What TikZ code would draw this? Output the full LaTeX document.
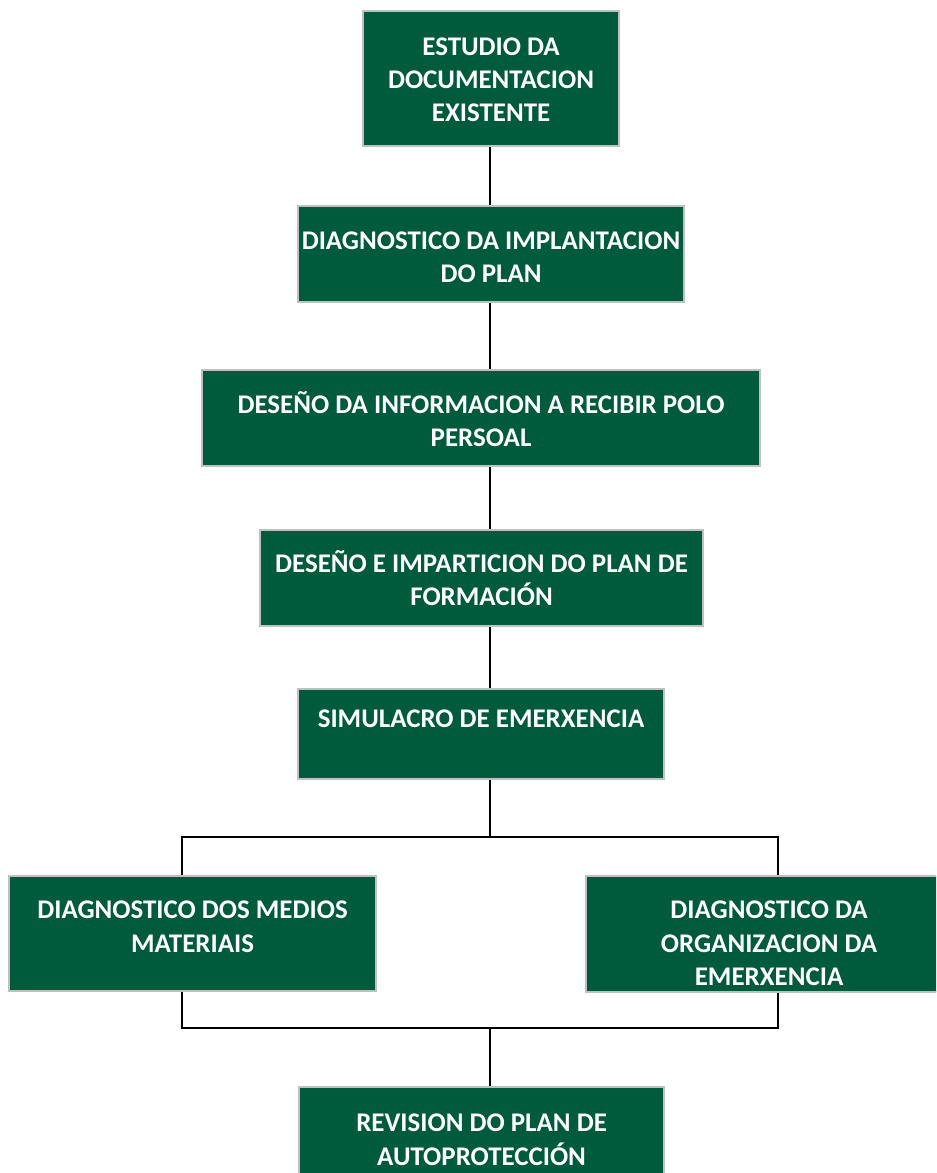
\documentclass[tikz,border=0pt]{standalone}
\usepackage{fontspec}
\setmainfont{Carlito}
\usetikzlibrary{positioning}
\definecolor{verde}{RGB}{0,90,60}
\definecolor{bordo}{RGB}{192,192,192}
\tikzset{
    stage/.style = {draw=bordo, line width=1.6pt, fill=verde, inner sep=0pt, anchor=north west},
    boxsize/.style 2 args = {minimum width=#1*0.75pt, minimum height=#2*0.75pt},
    stagetext/.style = {text=white, font=\bfseries\fontsize{20.2}{24.8}\selectfont, align=center,
        inner sep=0pt, execute at begin node=\rule{0pt}{1em}},
    link/.style = {line width=1.5pt}
}

\begin{document}
\begin{tikzpicture}[x=0.75pt, y=-0.75pt]
        \useasboundingbox (0,0) rectangle (936,1173);
        \clip (0,0) rectangle (936,1173);

        % caixas
        \node[stage, boxsize={256}{135}] (estudo) at (362,10) {};
        \node[stage, boxsize={386}{96}] (diag) at (297,205) {};
        \node[stage, boxsize={558}{96}] (desenho) at (201,369) {};
        \node[stage, boxsize={443}{96}] (formacion) at (259,529) {};
        \node[stage, boxsize={366}{90}] (simulacro) at (297,688) {};
        \node[stage, boxsize={367}{115}] (medios) at (8,875) {};
        \node[stage, boxsize={366}{116}] (organiz) at (585,875) {};
        \node[stage, boxsize={365}{120}] (revision) at (298,1086) {};

        % textos
        \node[stagetext, below=20.5pt of estudo.north] (estudo-t) {ESTUDIO DA\\DOCUMENTACION\\EXISTENTE};
        \node[stagetext, below=20pt of diag.north] (diag-t) {DIAGNOSTICO DA IMPLANTACION\\DO PLAN};
        \node[stagetext, below=17pt of desenho.north] (desenho-t) {DESEÑO DA INFORMACION A RECIBIR POLO\\PERSOAL};
        \node[stagetext, below=16pt of formacion.north] (formacion-t) {DESEÑO E IMPARTICION DO PLAN DE\\FORMACIÓN};
        \node[stagetext, below=9pt of simulacro.north] (simulacro-t) {SIMULACRO DE EMERXENCIA};
        \node[stagetext, below=19.5pt of medios.north] (medios-t) {DIAGNOSTICO DOS MEDIOS\\MATERIAIS};
        \node[stagetext, below=19.5pt of organiz.north] (organiz-t) {DIAGNOSTICO DA\\ORGANIZACION DA\\EMERXENCIA};
        \node[stagetext, below=21pt of revision.north] (revision-t) {REVISION DO PLAN DE\\AUTOPROTECCIÓN};

        % liñas
        \coordinate (spine) at (490,0);
        \coordinate (ramaL) at (182,837);
        \coordinate (ramaR) at (778,837);
        \coordinate (bus) at (490,1028);
        \draw[link] (estudo.south -| spine) -- (diag.north -| spine);
        \draw[link] (diag.south -| spine) -- (desenho.north -| spine);
        \draw[link] (desenho.south -| spine) -- (formacion.north -| spine);
        \draw[link] (formacion.south -| spine) -- (simulacro.north -| spine);
        \draw[link] (simulacro.south -| spine) -- (ramaL -| spine);
        \draw[link] (medios.north -| ramaL) -- (ramaL) -- (ramaR) -- (organiz.north -| ramaR);
        \draw[link] (medios.south -| ramaL) |- (bus) -| (organiz.south -| ramaR);
        \draw[link] (bus) -- (revision.north -| spine);
    \end{tikzpicture}
\end{document}
